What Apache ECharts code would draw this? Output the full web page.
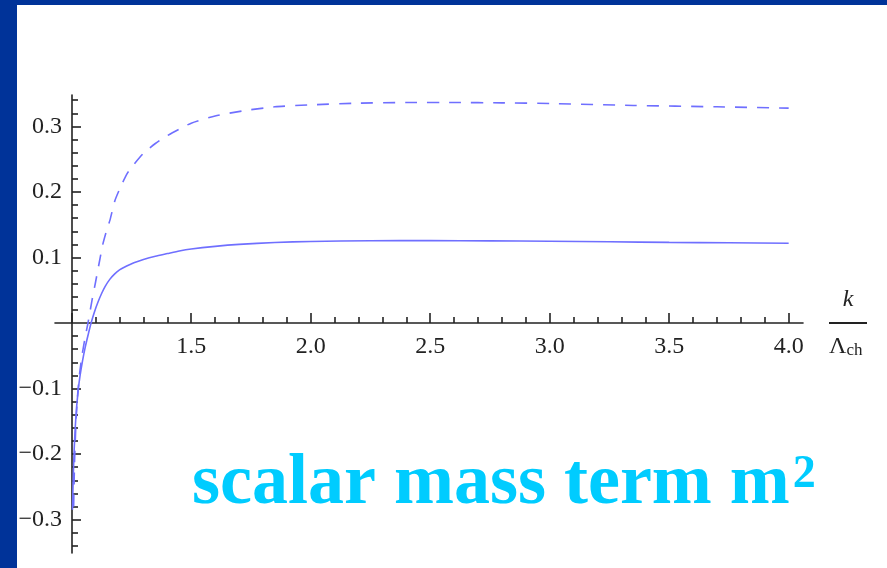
<!DOCTYPE html>
<html>
<head>
<meta charset="utf-8">
<script src="https://cdn.jsdelivr.net/npm/echarts@6/dist/echarts.min.js"></script>
<style>
html,body{margin:0;padding:0;background:#003399;width:887px;height:568px;overflow:hidden;}
#chart{position:absolute;left:17px;top:5px;width:870px;height:563px;background:#ffffff;}
</style>
</head>
<body>
<div id="chart"></div>
<script>
// ---- data ----
const solidX = [1.003,1.006,1.01,1.015,1.02,1.027,1.035,1.045,1.057,1.07,1.081,1.095,1.11,1.125,1.14,1.16,1.18,1.2,1.23,1.26,1.3,1.35,1.4,1.45,1.5,1.6,1.7,1.85,2.0,2.25,2.5,2.75,3.0,3.25,3.5,3.75,4.0];
const solidY = [-0.285,-0.24,-0.195,-0.158,-0.13,-0.103,-0.08,-0.058,-0.036,-0.016,0,0.017,0.032,0.045,0.056,0.067,0.075,0.081,0.087,0.092,0.097,0.102,0.106,0.11,0.113,0.117,0.12,0.123,0.1245,0.1255,0.1258,0.1254,0.1248,0.124,0.123,0.1225,0.1217];
const dashedX = [1.008,1.012,1.018,1.025,1.033,1.042,1.054,1.068,1.085,1.1,1.115,1.13,1.145,1.16,1.18,1.2,1.23,1.26,1.3,1.35,1.4,1.45,1.5,1.6,1.72,1.85,2.0,2.2,2.4,2.6,2.8,3.0,3.35,3.7,4.0];
const dashedY = [-0.28,-0.21,-0.15,-0.108,-0.077,-0.052,-0.026,0,0.035,0.063,0.092,0.12,0.14,0.157,0.186,0.204,0.227,0.242,0.259,0.274,0.286,0.296,0.305,0.316,0.324,0.330,0.333,0.3355,0.3365,0.3365,0.336,0.335,0.332,0.330,0.328];
const xMajorTicks = [1.0,1.5,2.0,2.5,3.0,3.5,4.0];
const xLabels = [1.5,2.0,2.5,3.0,3.5,4.0];
const xMinorTicks = [1.1,1.2,1.3,1.4,1.6,1.7,1.8,1.9,2.1,2.2,2.3,2.4,2.6,2.7,2.8,2.9,3.1,3.2,3.3,3.4,3.6,3.7,3.8,3.9];
const yMajorTicks = [-0.3,-0.2,-0.1,0.1,0.2,0.3];
const yLabels = [-0.3,-0.2,-0.1,0.1,0.2,0.3];
const yMinorTicks = [-0.34,-0.32,-0.28,-0.26,-0.24,-0.22,-0.18,-0.16,-0.14,-0.12,-0.08,-0.06,-0.04,-0.02,0.02,0.04,0.06,0.08,0.12,0.14,0.16,0.18,0.22,0.24,0.26,0.28,0.32,0.34];
const titleText = 'scalar mass term m';
const titleSup = '2';

const solidData = solidX.map((x,i)=>[x,solidY[i]]);
const dashedData = dashedX.map((x,i)=>[x,dashedY[i]]);

const XMIN = 0.93, XMAX = 4.06, YMIN = -0.351, YMAX = 0.348;
const GRID_TOP = 90, GRID_BOTTOM = 15, CH = 563;
// pixel offset that brings the x axis up to y = 0
const plotH = CH - GRID_TOP - GRID_BOTTOM;
const xAxisOffset = -plotH * (0 - YMIN) / (YMAX - YMIN);
const axisColor = '#222';
const serif = 'Liberation Serif';
const lineColor = '#6f6fff';

const chart = echarts.init(document.getElementById('chart'), null, {renderer:'canvas'});
const fmt = v => {
  const s = Math.abs(v).toFixed(1);
  return v < 0 ? '\u2212' + s : s;
};
chart.setOption({
  animation:false,
  backgroundColor:'#ffffff',
  title:{
    text:'{a|' + titleText + '}{s|' + titleSup + '}',
    left:170, top:436,
    textStyle:{
      rich:{
        a:{fontFamily:serif,fontWeight:'bold',fontSize:72,color:'#00ccff',lineHeight:76},
        s:{fontFamily:serif,fontWeight:'bold',fontSize:46,color:'#00ccff',verticalAlign:'top',lineHeight:76,padding:[6,0,0,3]}
      }
    }
  },
  grid:{left:38,right:84,top:GRID_TOP,bottom:GRID_BOTTOM,containLabel:false,outerBoundsMode:'none'},
  xAxis:[
    {type:'value',min:XMIN,max:XMAX,position:'bottom',offset:xAxisOffset,
     axisLine:{show:true,onZero:false,lineStyle:{color:axisColor,width:1.6}},
     axisTick:{show:true,inside:true,length:10,customValues:xMajorTicks,lineStyle:{color:axisColor,width:1.6}},
     axisLabel:{show:true,customValues:xLabels,margin:12,color:axisColor,fontFamily:serif,fontSize:24,formatter:fmt},
     splitLine:{show:false},
     name:'{k|k}\n{bar|}\n{L|\u039B}{s|ch}',
     nameLocation:'end',nameGap:26,
     nameTextStyle:{
       verticalAlign:'middle',
       rich:{
         k:{fontFamily:serif,fontStyle:'italic',fontSize:24,color:axisColor,align:'center',width:38,lineHeight:45},
         bar:{width:38,height:2,backgroundColor:axisColor,lineHeight:2},
         L:{fontFamily:serif,fontSize:24,color:axisColor,lineHeight:45},
         s:{fontFamily:serif,fontSize:17,color:axisColor,lineHeight:45,padding:[8,0,0,0]}
       }
     }
    },
    {type:'value',min:XMIN,max:XMAX,position:'bottom',offset:xAxisOffset,
     axisLine:{show:false,onZero:false},
     axisTick:{show:true,inside:true,length:6,customValues:xMinorTicks,lineStyle:{color:axisColor,width:1.6}},
     axisLabel:{show:false},splitLine:{show:false}
    }
  ],
  yAxis:[
    {type:'value',min:YMIN,max:YMAX,position:'left',offset:-17,
     axisLine:{show:true,onZero:false,lineStyle:{color:axisColor,width:1.6}},
     axisTick:{show:true,inside:true,length:9,customValues:yMajorTicks,lineStyle:{color:axisColor,width:1.6}},
     axisLabel:{show:true,customValues:yLabels,margin:10,color:axisColor,fontFamily:serif,fontSize:24,formatter:fmt},
     splitLine:{show:false}
    },
    {type:'value',min:YMIN,max:YMAX,position:'left',offset:-17,
     axisLine:{show:false,onZero:false},
     axisTick:{show:true,inside:true,length:6,customValues:yMinorTicks,lineStyle:{color:axisColor,width:1.6}},
     axisLabel:{show:false},splitLine:{show:false}
    }
  ],
  series:[
    {type:'line',data:dashedData,xAxisIndex:0,yAxisIndex:0,smooth:0.2,showSymbol:false,
     lineStyle:{color:lineColor,width:1.6,type:[12,10]}},
    {type:'line',data:solidData,xAxisIndex:0,yAxisIndex:0,smooth:0.2,showSymbol:false,
     lineStyle:{color:lineColor,width:1.6}}
  ]
});
</script>
</body>
</html>
